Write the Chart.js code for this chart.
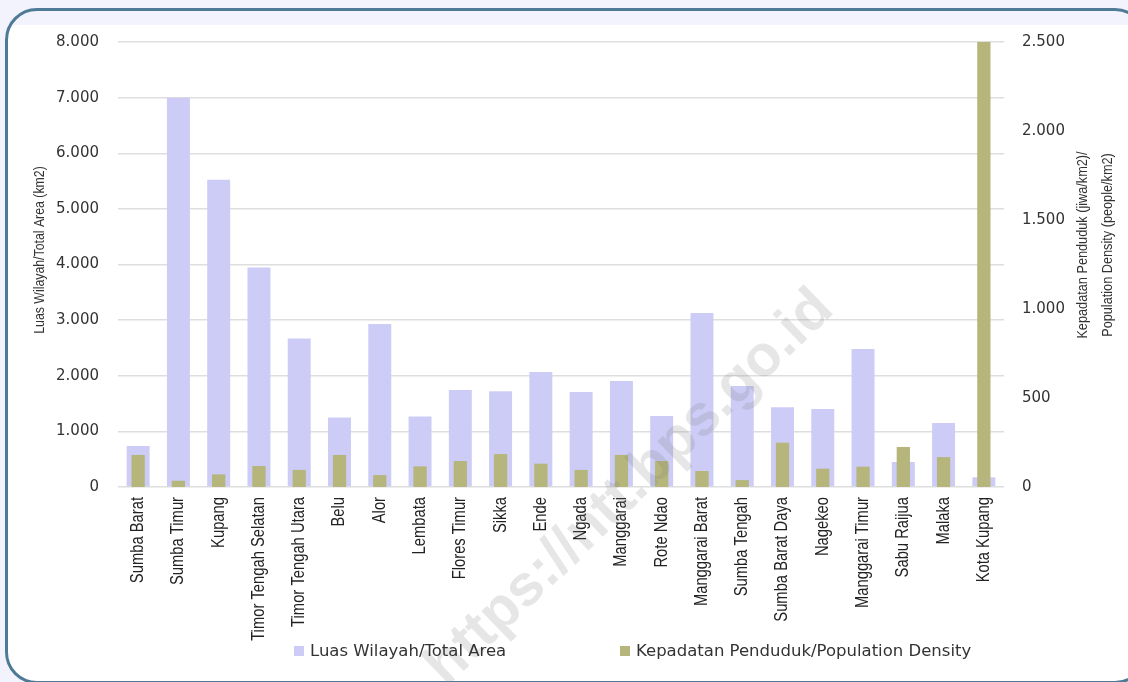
<!DOCTYPE html>
<html>
<head>
<meta charset="utf-8">
<script src="https://cdn.jsdelivr.net/npm/chart.js@4.4.0/dist/chart.umd.min.js"></script>
<style>
  html, body { margin: 0; padding: 0; background: #f2f3fc; }
  #page { width: 1128px; height: 682px; position: relative; overflow: hidden; }
  .frame {
    position: absolute; left: 5px; top: 8px; width: 1136px; height: 670px;
    border: 3px solid #4e7a96; border-radius: 32px;
    background: linear-gradient(#f2f3fc 0 14px, #ffffff 14px);
  }
  #wrap { position: absolute; left: 0; top: 0; width: 1128px; height: 682px; }
  .legend-item {
    position: absolute; top: 641px; display: flex; align-items: center;
    font: 16.5px "DejaVu Sans", sans-serif; color: #333; white-space: nowrap;
  }
  .legend-item i { display: inline-block; width: 10px; height: 10px; margin-right: 6px; }
</style>
</head>
<body>
<div id="page">
  <div class="frame"></div>
  <div id="wrap"><canvas id="myChart" width="1128" height="682"></canvas></div>
  <div id="legend"></div>
</div>
<script>
const regencies = [
  "Sumba Barat", "Sumba Timur", "Kupang", "Timor Tengah Selatan", "Timor Tengah Utara",
  "Belu", "Alor", "Lembata", "Flores Timur", "Sikka", "Ende", "Ngada", "Manggarai",
  "Rote Ndao", "Manggarai Barat", "Sumba Tengah", "Sumba Barat Daya", "Nagekeo",
  "Manggarai Timur", "Sabu Raijua", "Malaka", "Kota Kupang",
];

// km2
const areaKm2 = [
  737, 7000, 5525, 3947, 2670, 1249, 2929, 1266, 1745, 1720, 2067,
  1708, 1906, 1276, 3128, 1816, 1432, 1402, 2481, 449, 1150, 174,
];

// people per km2
const density = [
  180, 35, 71, 118, 96, 180, 67, 116, 146, 185, 131,
  96, 180, 146, 90, 39, 249, 103, 114, 225, 168, 2500,
];

const areaTicks = [0, 1000, 2000, 3000, 4000, 5000, 6000, 7000, 8000];
const densityTicks = [0, 500, 1000, 1500, 2000, 2500];

const legendX = [294, 620];

const fmt = (v) => String(v).replace(/\B(?=(\d{3})+(?!\d))/g, ".");

// narrow text: Liberation Sans squeezed along the reading direction
const SQUEEZE = 0.82;
function vtext(ctx, txt, x, y, size, align) {
  ctx.save();
  ctx.font = size + 'px "Liberation Sans", Arial, sans-serif';
  ctx.textAlign = align;
  ctx.textBaseline = "middle";
  ctx.translate(x, y);
  ctx.rotate(-Math.PI / 2);
  ctx.scale(SQUEEZE, 1);
  ctx.fillText(txt, 0, 0);
  ctx.restore();
}

// category labels, rotated axis titles and the site watermark
const extras = {
  id: "extras",
  afterDraw(chart) {
    const ctx = chart.ctx;
    const xs = chart.scales.x;
    const bottom = chart.chartArea.bottom;
    ctx.save();
    ctx.fillStyle = "#222";
    regencies.forEach((name, i) => {
      vtext(ctx, name, xs.getPixelForValue(i), bottom + 10, 18, "right");
    });
    ctx.fillStyle = "#333";
    vtext(ctx, "Luas Wilayah/Total Area (km2)", 40, 250, 15, "center");
    vtext(ctx, "Kepadatan Penduduk (jiwa/km2)/", 1083, 245, 15.5, "center");
    vtext(ctx, "Population Density (people/km2)", 1108, 245, 15.5, "center");

    ctx.translate(630, 488);
    ctx.rotate(-44 * Math.PI / 180);
    ctx.textAlign = "center";
    ctx.textBaseline = "middle";
    ctx.font = 'bold 58px "Liberation Sans", sans-serif';
    ctx.fillStyle = "rgba(120,120,120,0.19)";
    ctx.fillText("https://ntt.bps.go.id", 0, 0);
    ctx.restore();
  },
};

const data = {
  labels: regencies,
  datasets: [
    {
      label: "Luas Wilayah/Total Area",
      data: areaKm2,
      backgroundColor: "#ccccf7",
      yAxisID: "y",
      barPercentage: 0.57,
      categoryPercentage: 1,
      grouped: false,
      order: 1,
    },
    {
      label: "Kepadatan Penduduk/Population Density",
      data: density,
      backgroundColor: "#b6b67c",
      yAxisID: "y1",
      barPercentage: 0.33,
      categoryPercentage: 1,
      grouped: false,
      order: 0,
    },
  ],
};

const config = {
  type: "bar",
  data: data,
  options: {
    responsive: false,
    animation: false,
    layout: { padding: { top: 42, left: 0, right: 0, bottom: 0 } },
    plugins: {
      legend: { display: false },
      tooltip: { enabled: false },
    },
    scales: {
      x: {
        grid: { display: false },
        border: { display: false },
        ticks: { display: false },
        afterFit: (s) => { s.height = 195; },
      },
      y: {
        position: "left",
        min: 0,
        max: 8000,
        afterBuildTicks: (s) => { s.ticks = areaTicks.map((v) => ({ value: v })); },
        grid: { color: "#dedede", lineWidth: 1.5, drawTicks: false },
        border: { display: false },
        ticks: {
          color: "#333",
          padding: 19,
          font: { family: '"DejaVu Sans", sans-serif', size: 15 },
          callback: (v) => fmt(v),
        },
        afterFit: (s) => { s.width = 118; },
      },
      y1: {
        position: "right",
        min: 0,
        max: 2500,
        afterBuildTicks: (s) => { s.ticks = densityTicks.map((v) => ({ value: v })); },
        grid: { display: false, drawTicks: false },
        border: { display: false },
        ticks: {
          color: "#333",
          padding: 18,
          font: { family: '"DejaVu Sans", sans-serif', size: 15 },
          callback: (v) => fmt(v),
        },
        afterFit: (s) => { s.width = 124; },
      },
    },
  },
  plugins: [extras],
};

const myChart = new Chart(document.getElementById("myChart"), config);

// legend below the plot, built from the datasets
const legend = document.getElementById("legend");
data.datasets.forEach((ds, i) => {
  const item = document.createElement("div");
  item.className = "legend-item";
  item.style.left = legendX[i] + "px";
  item.innerHTML = '<i style="background:' + ds.backgroundColor + '"></i>' + ds.label;
  legend.appendChild(item);
});
</script>
</body>
</html>
